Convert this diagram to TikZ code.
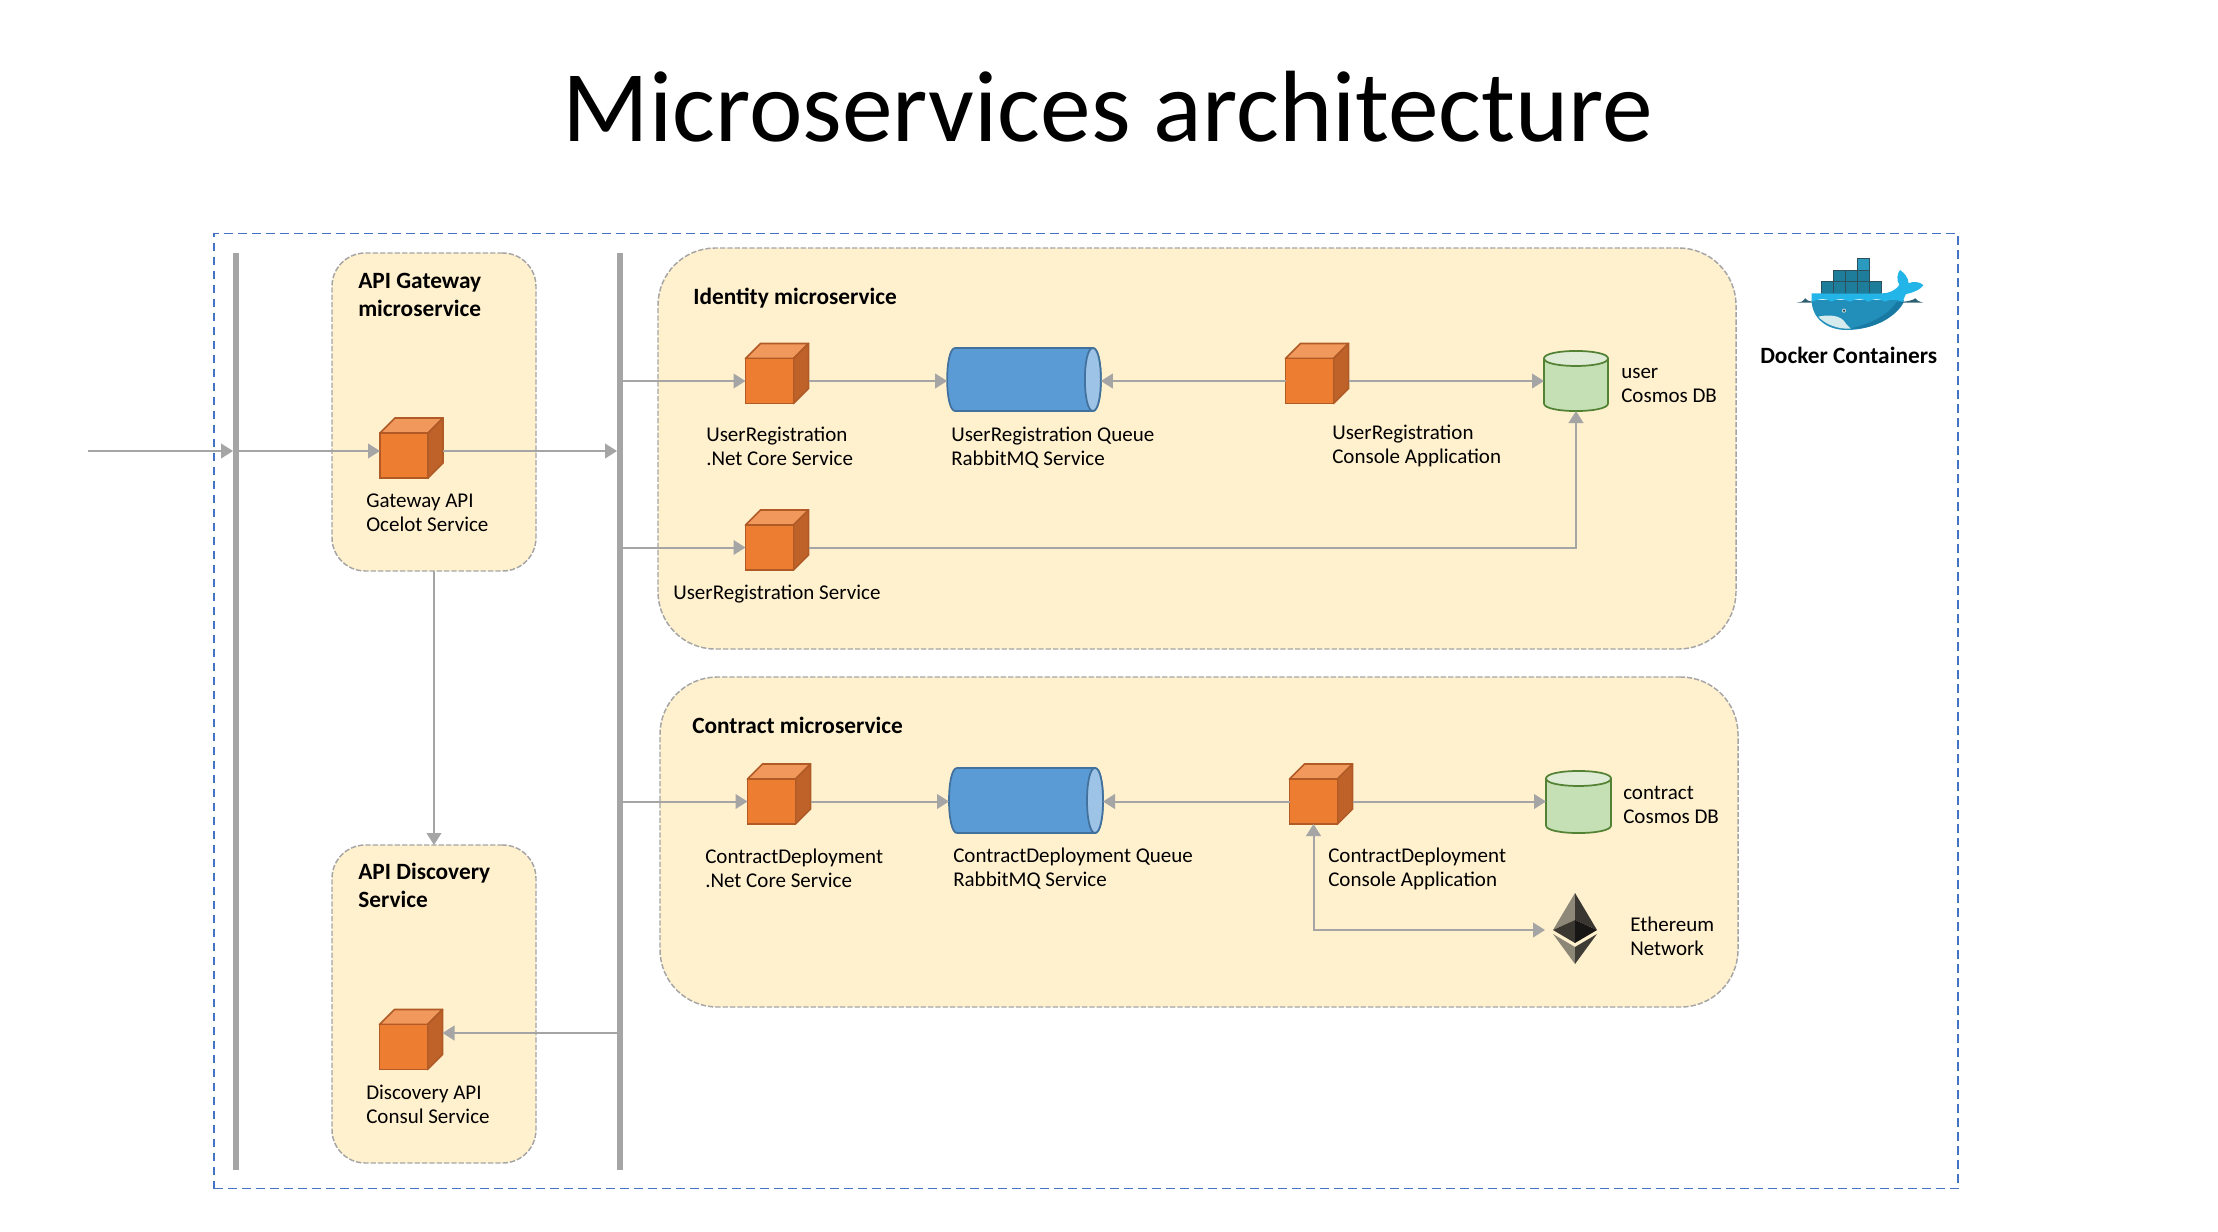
\documentclass[tikz,border=0pt]{standalone}
\usepackage{fontspec}
\setmainfont{Carlito}
\usetikzlibrary{arrows.meta}

\definecolor{flowgray}{RGB}{165,165,165}
\definecolor{framblue}{RGB}{68,114,196}
\definecolor{boxfill}{RGB}{255,240,206}
\definecolor{cubefront}{RGB}{237,125,49}
\definecolor{cubetop}{RGB}{241,152,93}
\definecolor{cubeside}{RGB}{190,98,42}
\definecolor{cubeline}{RGB}{176,90,38}
\definecolor{queuebody}{RGB}{91,155,213}
\definecolor{queueend}{RGB}{157,195,230}
\definecolor{queueline}{RGB}{65,113,156}
\definecolor{dbbody}{RGB}{197,224,180}
\definecolor{dbtop}{RGB}{222,236,214}
\definecolor{dbline}{RGB}{84,130,53}

\tikzset{
  flow/.style={draw=flowgray,line width=1.5pt,-{Triangle[length=9pt,width=11pt]}},
  bus/.style={rectangle,fill=flowgray,inner sep=0pt,outer sep=0pt,minimum width=4.5pt,minimum height=687.75pt},
  servicebox/.style={rectangle,draw=flowgray,fill=boxfill,line width=1.1pt,dash pattern={on 4pt off 1.5pt},inner sep=0pt,outer sep=0pt},
  cube/.style={rectangle,draw=cubeline,fill=cubefront,line width=1.3pt,inner sep=0pt,outer sep=0pt,minimum width=36pt,minimum height=33.75pt,
    append after command={\pgfextra{
      \draw [cubeline,line width=1.3pt,line join=round,fill=cubetop] (\tikzlastnode.north west) -- ++(11.25pt,-11.25pt) -- ++(36pt,0pt) -- (\tikzlastnode.north east) -- cycle ;
      \draw [cubeline,line width=1.3pt,line join=round,fill=cubeside] (\tikzlastnode.north east) -- ++(11.25pt,-11.25pt) -- ++(0pt,33.75pt) -- (\tikzlastnode.south east) -- cycle ;
      \coordinate (\tikzlastnode-r) at ([xshift=11.25pt]\tikzlastnode.east);
    }}},
  queue/.style={rectangle,inner sep=0pt,outer sep=0pt,
    append after command={\pgfextra{
      \draw [queueline,line width=1.3pt,fill=queuebody] ([xshift=6pt]\tikzlastnode.north west) .. controls ([xshift=-2pt]\tikzlastnode.north west) and ([xshift=-2pt]\tikzlastnode.south west) .. ([xshift=6pt]\tikzlastnode.south west) -- ([xshift=-6pt]\tikzlastnode.south east) .. controls ([xshift=2pt]\tikzlastnode.south east) and ([xshift=2pt]\tikzlastnode.north east) .. ([xshift=-6pt]\tikzlastnode.north east) -- cycle ;
      \draw [queueline,line width=1.3pt,fill=queueend] ([xshift=-6pt]\tikzlastnode.north east) .. controls ([xshift=2pt]\tikzlastnode.north east) and ([xshift=2pt]\tikzlastnode.south east) .. ([xshift=-6pt]\tikzlastnode.south east) .. controls ([xshift=-14pt]\tikzlastnode.south east) and ([xshift=-14pt]\tikzlastnode.north east) .. ([xshift=-6pt]\tikzlastnode.north east) -- cycle ;
    }}},
  cosmos/.style={rectangle,inner sep=0pt,outer sep=0pt,
    append after command={\pgfextra{
      \draw [dbline,line width=1.3pt,fill=dbbody] ([yshift=5.6pt]\tikzlastnode.north west) -- ([yshift=-5.6pt]\tikzlastnode.south west) .. controls ([yshift=1.9pt]\tikzlastnode.south west) and ([yshift=1.9pt]\tikzlastnode.south east) .. ([yshift=-5.6pt]\tikzlastnode.south east) -- ([yshift=5.6pt]\tikzlastnode.north east) -- cycle ;
      \draw [dbline,line width=1.3pt,fill=dbtop] ([yshift=5.6pt]\tikzlastnode.north west) .. controls ([yshift=-1.9pt]\tikzlastnode.north west) and ([yshift=-1.9pt]\tikzlastnode.north east) .. ([yshift=5.6pt]\tikzlastnode.north east) .. controls ([yshift=13.1pt]\tikzlastnode.north east) and ([yshift=13.1pt]\tikzlastnode.north west) .. ([yshift=5.6pt]\tikzlastnode.north west) -- cycle ;
    }}},
  lbl/.style={anchor=base west,inner sep=0pt,align=left,font=\fontsize{15.75}{18}\selectfont},
  lblb/.style={anchor=base west,inner sep=0pt,align=left,font=\fontsize{17.5}{21}\selectfont\bfseries},
  crate/.style={draw={rgb,255:red,45;green,80;blue,92},line width=0.6pt,fill={rgb,255:red,30;green,125;blue,155}},
}

\begin{document}
\begin{tikzpicture}[x=0.75pt,y=0.75pt,yscale=-1,xscale=1]
\useasboundingbox (0,0) rectangle (2218,1232);

% Title
\node (title) [anchor=base,inner sep=0pt,font=\fontsize{76}{80}\selectfont] at (1108,141) {Microservices architecture};

%Shape: Rectangle
\node (frame) [rectangle,draw=framblue,line width=1.3pt,dash pattern={on 6.5pt off 4pt},inner sep=0pt,minimum width=1308pt,minimum height=716.25pt] at (1086,711) {};

%Bars
\node (bus1) [bus] at (236,711.5) {};
\node (bus2) [bus] at (620,711.5) {};

%Service boxes
\node (gwbox) [servicebox,rounded corners=25pt,minimum width=153pt,minimum height=238.5pt] at (434,412) {};
\node (dscbox) [servicebox,rounded corners=25pt,minimum width=153pt,minimum height=238.5pt] at (434,1004) {};
\node (idbox) [servicebox,rounded corners=43pt,minimum width=808.5pt,minimum height=300.75pt] at (1197,448.5) {};
\node (ctbox) [servicebox,rounded corners=43pt,minimum width=808.5pt,minimum height=247.5pt] at (1199,842) {};

%Shape: Cube
\node (gw) [cube] at (404,455.5) {};
\node (dsc) [cube] at (403.5,1047) {};
\node (ur) [cube] at (769.5,381) {};
\node (urs) [cube] at (769.5,547.5) {};
\node (urc) [cube] at (1309.5,381) {};
\node (ct) [cube] at (771.5,801.5) {};
\node (ctc) [cube] at (1313.5,801.5) {};

%Shape: Can
\node (urq) [queue,minimum width=115.3pt,minimum height=47.25pt] at (1024,379.5) {};
\node (ctq) [queue,minimum width=115.5pt,minimum height=48.75pt] at (1026,800.5) {};
\node (udb) [cosmos,minimum width=48pt,minimum height=45pt] at (1576,381) {};
\node (cdb) [cosmos,minimum width=48.75pt,minimum height=46.5pt] at (1578.5,802) {};

%Shape: Ethereum
\node (eth) [rectangle,inner sep=0pt,outer sep=0pt,minimum width=45pt,minimum height=54pt] at (1575,930) {};
\fill [fill={rgb,255:red,141;green,136;blue,120}] (1575,893) -- (1553,930) -- (1575,920) -- cycle ;
\fill [fill={rgb,255:red,58;green,55;blue,50}] (1575,893) -- (1597,930) -- (1575,920) -- cycle ;
\fill [fill={rgb,255:red,58;green,56;blue,48}] (1553,930) -- (1575,920) -- (1575,943) -- cycle ;
\fill [fill={rgb,255:red,23;green,22;blue,20}] (1597,930) -- (1575,920) -- (1575,943) -- cycle ;
\fill [fill={rgb,255:red,139;green,134;blue,117}] (1553,934) -- (1575,947) -- (1575,964) -- cycle ;
\fill [fill={rgb,255:red,63;green,61;blue,53}] (1597,934) -- (1575,947) -- (1575,964) -- cycle ;

%Straight Lines
\coordinate (entry) at (88,451);
\coordinate (dscin) at (620,1033);
\draw [flow] (entry) -- (entry -| bus1.west) ;
\draw [flow] (entry -| bus1.east) -- (entry -| gw.west) ;
\draw [flow] (entry -| gw-r) -- (entry -| bus2.west) ;
\draw [flow] (gwbox.south) -- (dscbox.north) ;
\draw [flow] (dscin -| bus2.west) -- (dscin -| dsc-r) ;
\draw [flow] (ur.west -| bus2.east) -- (ur.west) ;
\draw [flow] (urs.west -| bus2.east) -- (urs.west) ;
\draw [flow] (ct.west -| bus2.east) -- (ct.west) ;
\draw [flow] (ur-r) -- (ur-r -| urq.west) ;
\draw [flow] (urc.west) -- (urc.west -| urq.east) ;
\draw [flow] (urc-r) -- (urc-r -| udb.west) ;
\draw [flow] (urs-r) -| (udb.south) ;
\draw [flow] (ct-r) -- (ct-r -| ctq.west) ;
\draw [flow] (ctc.west) -- (ctc.west -| ctq.east) ;
\draw [flow] (ctc-r) -- (ctc-r -| cdb.west) ;
\draw [flow,{Triangle[length=9pt,width=11pt]}-{Triangle[length=9pt,width=11pt]}] (ctc.south) |- (eth.west) ;

% Text Node
\node (tgw) [lblb] at (358,316) {API Gateway\\microservice};
\node (tdsc) [lblb] at (358,907) {API Discovery\\Service};
\node (tid) [lblb] at (693,304) {Identity microservice};
\node (tct) [lblb] at (692,733) {Contract microservice};
\node (tdk) [lblb] at (1760,363) {Docker Containers};
\node (lgw) [lbl] at (366,531) {Gateway API\\Ocelot Service};
\node (ldsc) [lbl] at (366,1123) {Discovery API\\Consul Service};
\node (lur) [lbl] at (706,465) {UserRegistration\\.Net Core Service};
\node (lurq) [lbl] at (951,465) {UserRegistration Queue\\RabbitMQ Service};
\node (lurc) [lbl] at (1332,463) {UserRegistration\\Console Application};
\node (ludb) [lbl] at (1621,402) {user\\Cosmos DB};
\node (lurs) [lbl] at (673,599) {UserRegistration Service};
\node (lct) [lbl] at (705,887) {ContractDeployment\\.Net Core Service};
\node (lctq) [lbl] at (953,886) {ContractDeployment Queue\\RabbitMQ Service};
\node (lctc) [lbl] at (1328,886) {ContractDeployment\\Console Application};
\node (lcdb) [lbl] at (1623,823) {contract\\Cosmos DB};
\node (leth) [lbl] at (1630,955) {Ethereum\\Network};

%Shape: Docker whale
\begin{scope}[shift={(1700,220)},x=0.25pt,y=0.25pt]
\draw [crate,fill={rgb,255:red,42;green,155;blue,190}] (472,115) rectangle (508,150) ;
\draw [crate] (400,150) rectangle (436,185) ;
\draw [crate] (436,150) rectangle (472,185) ;
\draw [crate] (472,150) rectangle (508,185) ;
\draw [crate] (365,185) rectangle (401,220) ;
\draw [crate] (401,185) rectangle (437,220) ;
\draw [crate] (437,185) rectangle (473,220) ;
\draw [crate] (473,185) rectangle (509,220) ;
\draw [crate] (509,185) rectangle (545,220) ;
\fill [fill={rgb,255:red,46;green,95;blue,112}] (290,248) -- (305,245) .. controls (310,242) and (313,238) .. (316,235) .. controls (320,240) and (325,244) .. (335,245) -- (610,245) .. controls (625,244) and (640,240) .. (646,235) .. controls (650,240) and (655,245) .. (670,248) -- cycle ;
\fill [fill={rgb,255:red,34;green,142;blue,186}] (335,240) -- (612,240) .. controls (590,290) and (520,330) .. (440,330) .. controls (380,330) and (335,295) .. (335,240) -- cycle ;
\fill [fill={rgb,255:red,24;green,122;blue,162}] (612,245) .. controls (590,290) and (520,330) .. (450,326) .. controls (520,310) and (570,280) .. (590,245) -- cycle ;
\fill [fill={rgb,255:red,214;green,235;blue,238}] (355,290) .. controls (390,282) and (420,288) .. (432,303) .. controls (438,312) and (445,320) .. (452,326) .. controls (410,328) and (375,312) .. (355,290) -- cycle ;
\fill [fill={rgb,255:red,35;green,181;blue,232}] (335,220) -- (545,220) .. controls (570,220) and (590,208) .. (598,195) .. controls (588,180) and (592,160) .. (600,150) .. controls (612,158) and (625,172) .. (626,190) .. controls (640,182) and (660,186) .. (670,195) .. controls (660,212) and (630,220) .. (618,222) .. controls (612,232) and (612,238) .. (608,245) .. controls (590,240) and (575,235) .. (555,245) .. controls (540,235) and (520,235) .. (505,245) .. controls (490,235) and (465,235) .. (450,245) .. controls (430,235) and (410,235) .. (395,245) .. controls (380,235) and (360,235) .. (335,245) -- cycle ;
\fill [fill={rgb,255:red,220;green,235;blue,235}] (432,272) circle (6) ;
\fill [fill={rgb,255:red,45;green,70;blue,80}] (432,272) circle (4) ;
\end{scope}

\end{tikzpicture}
\end{document}
